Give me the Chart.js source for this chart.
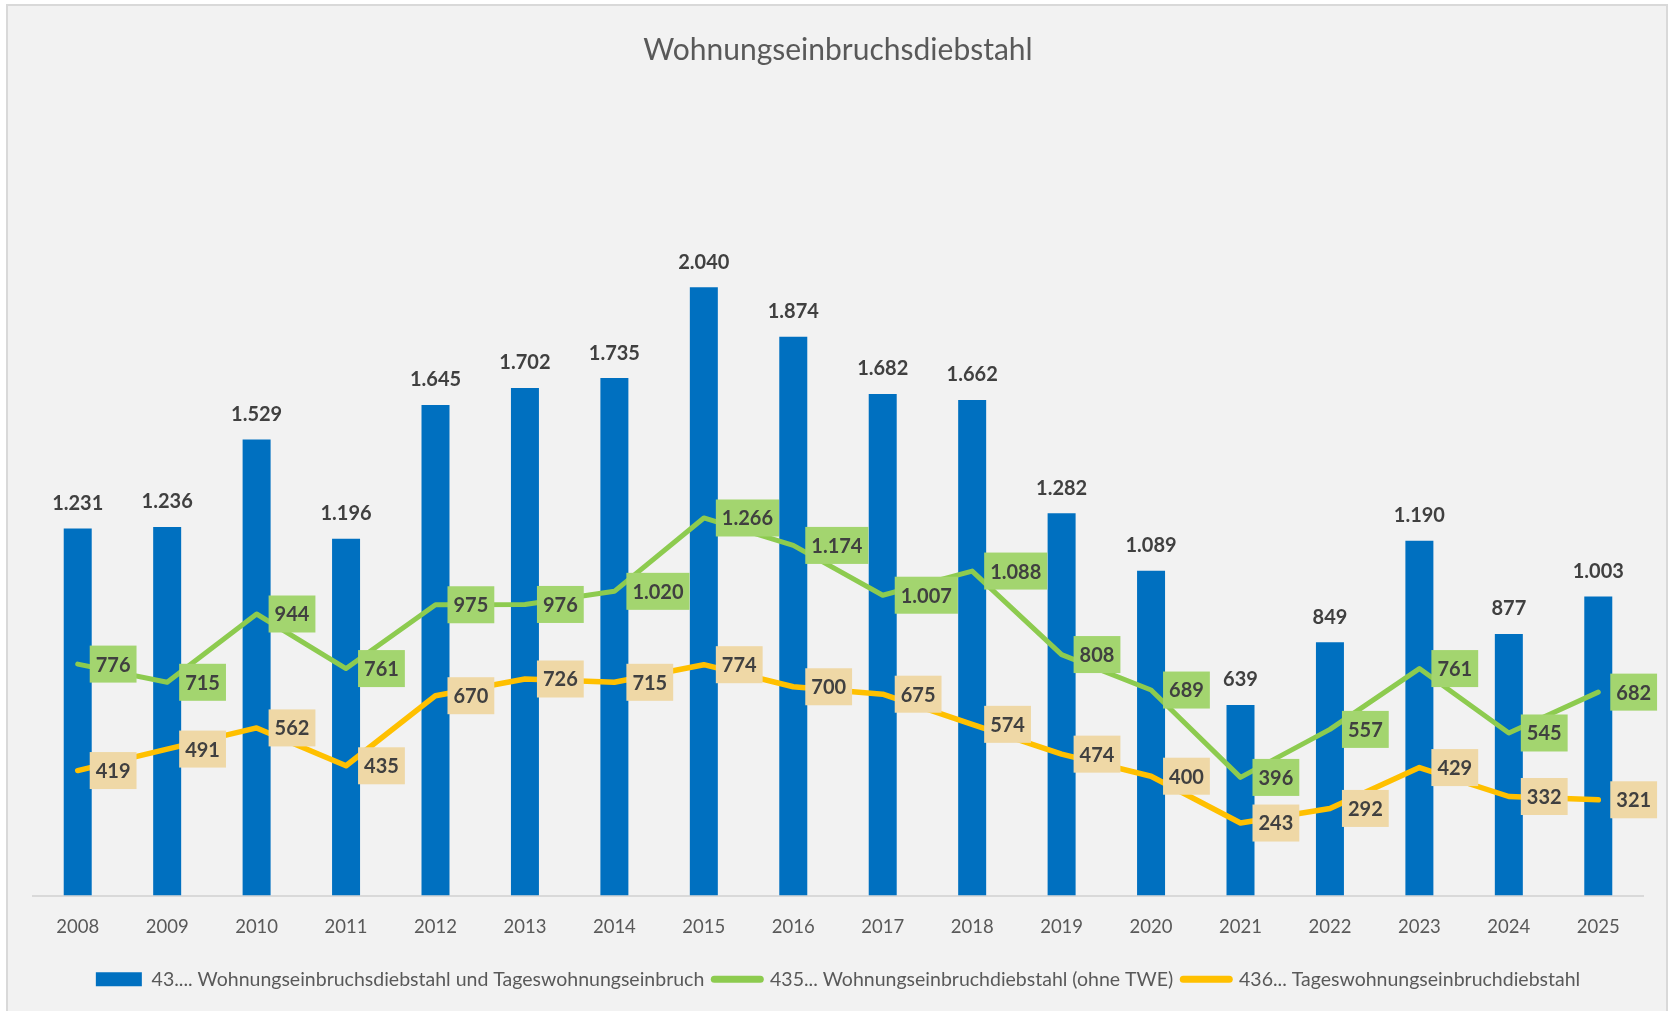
<!DOCTYPE html>
<html lang="de">
<head>
<meta charset="utf-8">
<title>Wohnungseinbruchsdiebstahl</title>
<script src="https://cdn.jsdelivr.net/npm/chart.js@4.4.1/dist/chart.umd.min.js"></script>
<style>
  html, body { margin: 0; padding: 0; background: #fff; }
  #wrap { width: 1669px; height: 1011px; }
</style>
</head>
<body>
<div id="wrap"><canvas id="wedChart" width="1669" height="1011"></canvas></div>
<script>
// Daten
const jahre = ['2008', '2009', '2010', '2011', '2012', '2013', '2014', '2015', '2016',
               '2017', '2018', '2019', '2020', '2021', '2022', '2023', '2024', '2025'];
const gesamt = [1231, 1236, 1529, 1196, 1645, 1702, 1735, 2040, 1874,
                1682, 1662, 1282, 1089, 639, 849, 1190, 877, 1003];
const ohneTWE = [776, 715, 944, 761, 975, 976, 1020, 1266, 1174,
                 1007, 1088, 808, 689, 396, 557, 761, 545, 682];
const tageswohnung = [419, 491, 562, 435, 670, 726, 715, 774, 700,
                      675, 574, 474, 400, 243, 292, 429, 332, 321];

const FONT = 'Lato';

// 1231 -> "1.231"
function fmt(v) {
    return String(v).replace(/\B(?=(\d{3})+(?!\d))/g, '.');
}

// Hintergrund + Rahmen
const rahmenPlugin = {
    id: 'rahmen',
    beforeDraw(chart) {
        const ctx = chart.ctx;
        ctx.save();
        ctx.fillStyle = '#ffffff';
        ctx.fillRect(0, 0, chart.width, chart.height);
        ctx.fillStyle = '#f2f2f2';
        ctx.fillRect(7, 5, 1660, 1010);
        ctx.strokeStyle = '#d9d9d9';
        ctx.lineWidth = 2;
        ctx.strokeRect(7, 5, 1660, 1010);
        ctx.restore();
    }
};

// Datenbeschriftungen
const wertePlugin = {
    id: 'werte',
    afterDatasetsDraw(chart) {
        const ctx = chart.ctx;
        ctx.save();
        ctx.font = 'bold 20px ' + FONT;
        ctx.textAlign = 'center';
        ctx.textBaseline = 'middle';
        chart.data.datasets.forEach((ds, i) => {
            const meta = chart.getDatasetMeta(i);
            meta.data.forEach((el, j) => {
                const txt = fmt(ds.data[j]);
                if (ds.type === 'bar') {
                    ctx.fillStyle = '#404040';
                    ctx.fillText(txt, el.x, el.y - 25);
                } else {
                    const w = ctx.measureText(txt).width + 12;
                    const h = 37;
                    const x0 = el.x + 12;
                    ctx.fillStyle = ds.labelBox;
                    ctx.fillRect(x0, el.y - h / 2, w, h);
                    ctx.fillStyle = '#404040';
                    ctx.fillText(txt, x0 + w / 2, el.y + 1);
                }
            });
        });
        ctx.restore();
    }
};

const ctx = document.getElementById('wedChart').getContext('2d');
new Chart(ctx, {
    data: {
        labels: jahre,
        datasets: [
            {
                type: 'bar',
                label: '43.... Wohnungseinbruchsdiebstahl und Tageswohnungseinbruch',
                data: gesamt,
                backgroundColor: '#0070c0',
                borderColor: '#0070c0',
                borderWidth: 0,
                categoryPercentage: 1,
                barPercentage: 0.313,
                order: 3
            },
            {
                type: 'line',
                label: '435... Wohnungseinbruchdiebstahl (ohne TWE)',
                data: ohneTWE,
                borderColor: '#8dcb4f',
                backgroundColor: '#8dcb4f',
                borderWidth: 5,
                borderCapStyle: 'round',
                borderJoinStyle: 'round',
                pointRadius: 0,
                tension: 0,
                labelBox: '#a3d56f',
                order: 2
            },
            {
                type: 'line',
                label: '436... Tageswohnungseinbruchdiebstahl',
                data: tageswohnung,
                borderColor: '#ffc000',
                backgroundColor: '#ffc000',
                borderWidth: 5.5,
                borderCapStyle: 'round',
                borderJoinStyle: 'round',
                pointRadius: 0,
                tension: 0,
                labelBox: '#efd8a6',
                order: 1
            }
        ]
    },
    options: {
        responsive: false,
        animation: false,
        devicePixelRatio: 1,
        layout: { padding: { left: 33, right: 26, top: 0, bottom: 12 } },
        plugins: {
            title: {
                display: true,
                text: 'Wohnungseinbruchsdiebstahl',
                color: '#595959',
                font: { family: FONT, size: 30, weight: 'normal' },
                padding: { top: 32, bottom: 82 }
            },
            legend: {
                position: 'bottom',
                labels: {
                    usePointStyle: true,
                    pointStyleWidth: 46,
                    boxHeight: 14,
                    padding: 10,
                    color: '#595959',
                    font: { family: FONT, size: 19.5 },
                    sort: (a, b) => a.datasetIndex - b.datasetIndex,
                    generateLabels(chart) {
                        const items = Chart.defaults.plugins.legend.labels.generateLabels(chart);
                        items.forEach(it => {
                            if (it.datasetIndex === 0) {
                                it.pointStyle = 'rect';
                                it.fillStyle = '#0070c0';
                                it.lineWidth = 0;
                            } else {
                                it.pointStyle = 'line';
                                it.lineWidth = 7;
                                it.lineCap = 'round';
                            }
                        });
                        return items;
                    }
                }
            },
            tooltip: { enabled: false }
        },
        scales: {
            x: {
                grid: { display: false, drawTicks: false },
                border: { display: true, color: '#d9d9d9', width: 2 },
                ticks: { color: '#595959', font: { family: FONT, size: 18.5 }, padding: 20 },
                afterFit(scale) { scale.height = 64; }
            },
            y: {
                display: false,
                min: 0,
                max: 2500
            }
        }
    },
    plugins: [rahmenPlugin, wertePlugin]
});
</script>
</body>
</html>
